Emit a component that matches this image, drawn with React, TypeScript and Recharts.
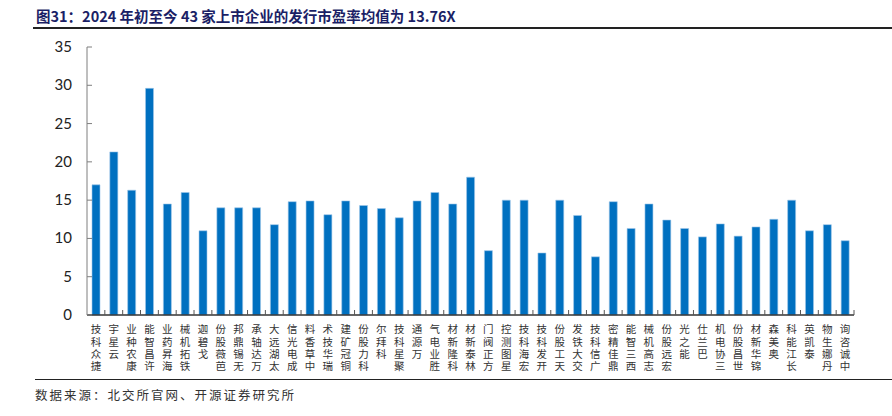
import { BarChart, Bar, XAxis, YAxis } from "recharts"

// 公司名称（横轴）
const companies = [
  "捷众科技", "云星宇", "康农种业", "许昌智能", "海昇药业", "铁拓机械", "戈碧迦", "芭薇股份",
  "无锡鼎邦", "万达轴承", "太湖远大", "成电光信", "中草香料", "瑞华技术", "铜冠矿建", "科力股份",
  "科拜尔", "聚星科技", "万源通", "胜业电气", "科隆新材", "林泰新材", "方正阀门", "星图测控",
  "宏海科技", "开发科技", "天工股份", "交大铁发", "广信科技", "鼎佳精密", "西三智能", "志高机械",
  "宏远股份", "能之光", "巴兰仕", "三协电机", "世昌股份", "锦华新材", "奥美森", "长江能科",
  "泰凯英", "丹娜生物", "中诚咨询",
]

// 发行市盈率（X）
const peRatios = [
  17.0, 21.3, 16.3, 29.6, 14.5, 16.0, 11.0, 14.0,
  14.0, 14.0, 11.8, 14.8, 14.9, 13.1, 14.9, 14.3,
  13.9, 12.7, 14.9, 16.0, 14.5, 18.0, 8.4, 15.0,
  15.0, 8.1, 15.0, 13.0, 7.6, 14.8, 11.3, 14.5,
  12.4, 11.3, 10.2, 11.9, 10.3, 11.5, 12.5, 15.0,
  11.0, 11.8, 9.7,
]

const yTicks = [0, 5, 10, 15, 20, 25, 30, 35]

const data = companies.map((name, i) => ({ name, pe: peRatios[i] }))

const CHART_W = 892
const CHART_H = 380
const LEFT = 87
const RIGHT = 38
const band = (CHART_W - LEFT - RIGHT) / companies.length

const cjk = '"Noto Sans CJK SC", sans-serif'

function YTick(props: any) {
  const { x, y, payload } = props
  return (
    <g>
      <line x1={x} x2={x + 5} y1={y} y2={y} stroke="#7f7f7f" />
      <text x={x - 15} y={y} dy={5} textAnchor="end" fontSize={15} fill="#222" fontFamily="Lato, sans-serif">
        {payload.value}
      </text>
    </g>
  )
}

function XTick(props: any) {
  const { x, y, payload } = props
  // 竖排标签，自下而上阅读，顶端对齐
  const label = Array.from(String(payload.value)).reverse().join("")
  return (
    <g>
      <line x1={x + band / 2} x2={x + band / 2} y1={y - 5} y2={y} stroke="#555" />
      <text
        x={x}
        y={y + 9}
        fontSize={10.5}
        fill="#333"
        fontFamily={cjk}
        letterSpacing={1.8}
        style={{ writingMode: "vertical-rl", textOrientation: "upright" } as any}
      >
        {label}
      </text>
    </g>
  )
}

export default function App() {
  return (
    <div style={{ position: "absolute", left: 0, top: 0, width: 892, height: 416, background: "#fff" }}>
      <div
        style={{
          position: "absolute", left: 36, top: 5, fontFamily: cjk, fontWeight: 700,
          fontSize: 14.5, color: "#1b1f66", whiteSpace: "nowrap",
        }}
      >
        图31：2024 年初至今 43 家上市企业的发行市盈率均值为 13.76X
      </div>
      <div style={{ position: "absolute", left: 33, top: 27, width: 859, height: 1.5, background: "#222" }} />

      <div style={{ position: "absolute", left: 0, top: 0 }}>
        <BarChart width={CHART_W} height={CHART_H} data={data} margin={{ top: 47, right: RIGHT, left: 0, bottom: 0 }} barSize={8}>
          <XAxis
            dataKey="name"
            interval={0}
            height={65}
            tickSize={0}
            tickMargin={0}
            tick={<XTick />}
            axisLine={{ stroke: "#333", strokeWidth: 1.5 }}
            tickLine={false}
          />
          <YAxis
            width={LEFT}
            domain={[0, 35]}
            ticks={yTicks}
            interval={0}
            tickSize={0}
            tickMargin={0}
            tick={<YTick />}
            axisLine={{ stroke: "#7f7f7f" }}
            tickLine={false}
          />
          <Bar dataKey="pe" fill="#0070c0" stroke="#9fc8ea" strokeWidth={0.6} isAnimationActive={false} />
        </BarChart>
      </div>

      <div style={{ position: "absolute", left: 35, top: 379, width: 857, height: 1, background: "#222" }} />
      <div
        style={{
          position: "absolute", left: 35, top: 385, fontFamily: cjk, fontSize: 12.5,
          color: "#333", whiteSpace: "nowrap", letterSpacing: 2,
        }}
      >
        数据来源：北交所官网、开源证券研究所
      </div>
    </div>
  )
}
